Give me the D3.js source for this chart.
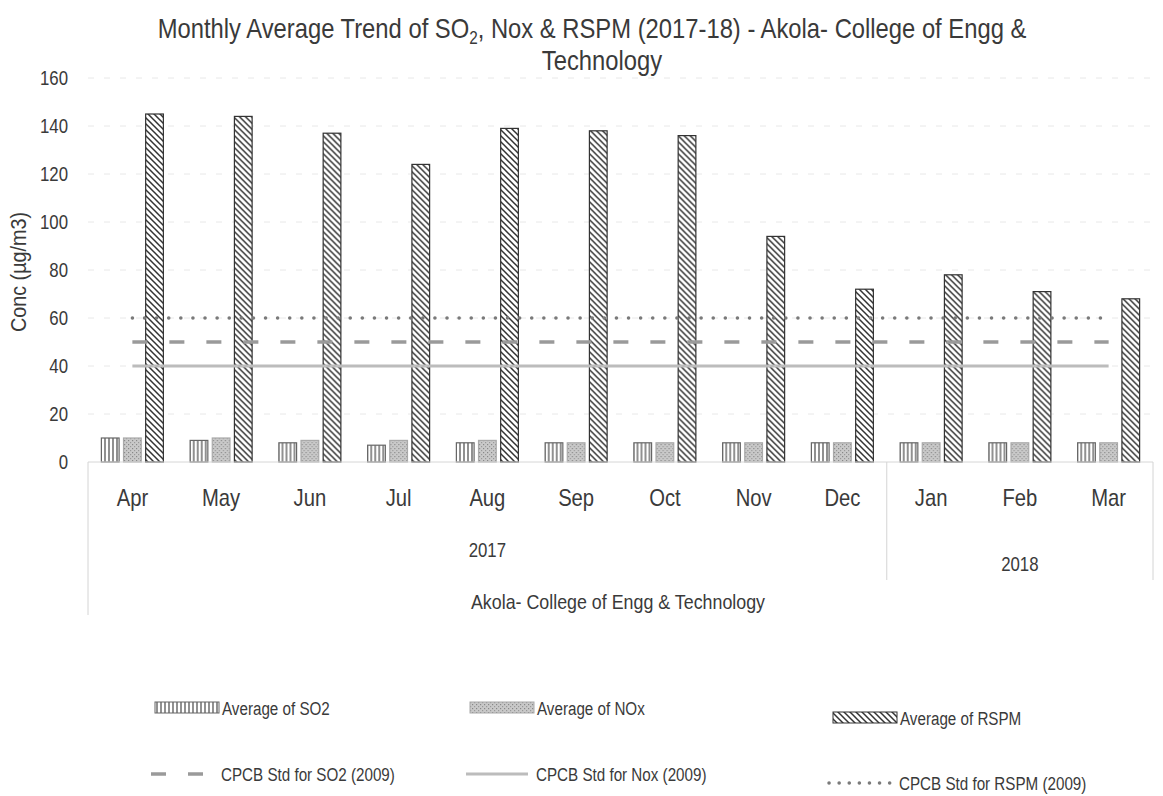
<!DOCTYPE html>
<html><head><meta charset="utf-8">
<script src="https://cdn.jsdelivr.net/npm/d3@7"></script>
<style>
html,body{margin:0;padding:0;background:#fff;}
svg text{font-family:"Liberation Sans",Arial,sans-serif;fill:#3a3a3a;}
</style></head>
<body>
<svg id="chart" width="1163" height="796"></svg>
<script>
const months = ["Apr","May","Jun","Jul","Aug","Sep","Oct","Nov","Dec","Jan","Feb","Mar"];
const years = [{label:"2017", from:"Apr", to:"Dec"},{label:"2018", from:"Jan", to:"Mar"}];
const so2 = [10, 9, 8, 7, 8, 8, 8, 8, 8, 8, 8, 8];
const nox = [10, 10, 9, 9, 9, 8, 8, 8, 8, 8, 8, 8];
const rspm = [145, 144, 137, 124, 139, 138, 136, 94, 72, 78, 71, 68];
const stdSO2 = [50,50,50,50,50,50,50,50,50,50,50,50];
const stdNOx = [40,40,40,40,40,40,40,40,40,40,40,40];
const stdRSPM = [60,60,60,60,60,60,60,60,60,60,60,60];
const yTicks = [0,20,40,60,80,100,120,140,160];
const barSeries = ["Average of SO2","Average of NOx","Average of RSPM"];
const lineSeries = ["CPCB Std for SO2 (2009)","CPCB Std for Nox (2009)","CPCB Std for RSPM (2009)"];

const svg = d3.select("#chart");
function ntext(parent, x, y, str, size, anchor, sx){
  const g = parent.append("g").attr("transform",`translate(${x},${y}) scale(${sx||0.8},1)`);
  return g.append("text").attr("text-anchor",anchor||"start").attr("font-size",size).text(str);
}

const defs = svg.append("defs");
const p1 = defs.append("pattern").attr("id","pSO2").attr("patternUnits","userSpaceOnUse").attr("width",4).attr("height",4);
p1.append("rect").attr("width",4).attr("height",4).attr("fill","#fff");
p1.append("line").attr("x1",1).attr("x2",1).attr("y1",0).attr("y2",4).attr("stroke","#555").attr("stroke-width",1.3);
const p2 = defs.append("pattern").attr("id","pNOx").attr("patternUnits","userSpaceOnUse").attr("width",4).attr("height",4);
p2.append("rect").attr("width",4).attr("height",4).attr("fill","#c9c9c9");
p2.append("rect").attr("x",0).attr("y",0).attr("width",1.2).attr("height",1.2).attr("fill","#888");
p2.append("rect").attr("x",2).attr("y",2).attr("width",1.2).attr("height",1.2).attr("fill","#999");
const p3 = defs.append("pattern").attr("id","pRSPM").attr("patternUnits","userSpaceOnUse").attr("width",6).attr("height",6);
p3.append("rect").attr("width",6).attr("height",6).attr("fill","#fff");
p3.append("path").attr("d","M0,0L6,6M-1,5L1,7M5,-1L7,1").attr("stroke","#333").attr("stroke-width",1.5);
const fills = ["url(#pSO2)","url(#pNOx)","url(#pRSPM)"];
const strokes = ["#666","#aaa","#333"];

const x0 = d3.scaleBand().domain(months).range([88,1153]);
const x1 = d3.scaleBand().domain([0,1,2]).range([x0.bandwidth()/2-31, x0.bandwidth()/2+31]).paddingInner(0.2);
const y = d3.scaleLinear().domain([0,160]).range([462,78]);

svg.append("g").selectAll("line").data(yTicks.filter(d=>d>0)).join("line")
  .attr("x1",88).attr("x2",1153).attr("y1",d=>y(d)).attr("y2",d=>y(d))
  .attr("stroke","#e8e8e8").attr("stroke-width",1).attr("stroke-dasharray","6,10");

const yAxis = d3.axisLeft(y).tickValues(yTicks).tickSize(0).tickPadding(0);
const gy = svg.append("g").attr("transform","translate(68,0)").call(yAxis);
gy.select(".domain").remove();
gy.selectAll("text").attr("font-size",21).attr("transform","scale(0.8,1)")
  .style("fill","#3a3a3a").style("font-family",'"Liberation Sans",Arial,sans-serif');

svg.append("g").attr("transform","translate(26,272) rotate(-90) scale(0.9,1)")
  .append("text").attr("text-anchor","middle").attr("font-size",22).text("Conc (µg/m3)");

const data = months.map((m,i)=>({m, vals:[so2[i],nox[i],rspm[i]]}));
const groups = svg.append("g").selectAll("g").data(data).join("g")
  .attr("transform",d=>`translate(${x0(d.m)},0)`);
groups.selectAll("rect").data(d=>d.vals.map((v,k)=>({v,k}))).join("rect")
  .attr("x",d=>x1(d.k)).attr("width",x1.bandwidth())
  .attr("y",d=>y(d.v)).attr("height",d=>y(0)-y(d.v))
  .attr("fill",d=>fills[d.k]).attr("stroke",d=>strokes[d.k]).attr("stroke-width",1.2);

svg.append("line").attr("x1",88).attr("x2",1153).attr("y1",y(0)).attr("y2",y(0)).attr("stroke","#d6d6d6").attr("stroke-width",1);

const line = d3.line().x((d,i)=>x0(months[i])+x0.bandwidth()/2).y(d=>y(d));
svg.append("path").datum(stdNOx).attr("d",line).attr("fill","none").attr("stroke","#bcbcbc").attr("stroke-width",3);
svg.append("path").datum(stdSO2).attr("d",line).attr("fill","none").attr("stroke","#9a9a9a").attr("stroke-width",3.5).attr("stroke-dasharray","15,22");
svg.append("path").datum(stdRSPM).attr("d",line).attr("fill","none").attr("stroke","#7a7a7a").attr("stroke-width",3.5).attr("stroke-linecap","round").attr("stroke-dasharray","0.1,12");

const gm = svg.append("g");
months.forEach(m=>ntext(gm, x0(m)+x0.bandwidth()/2, 506, m, 23, "middle", 0.88));
years.forEach(d=>ntext(gm, (x0(d.from)+x0(d.to)+x0.bandwidth())/2, d.label==="2017"?557:571, d.label, 21, "middle", 0.8));
const divX = [x0("Apr"), x0("Jan"), x0("Mar")+x0.bandwidth()];
svg.append("g").selectAll("line").data(divX).join("line")
  .attr("x1",d=>d).attr("x2",d=>d).attr("y1",y(0)).attr("y2",(d,i)=>i===0?615:580)
  .attr("stroke","#d4d4d4").attr("stroke-width",1);
ntext(svg, 618, 609, "Akola- College of Engg & Technology", 21, "middle", 0.85);

const tg = svg.append("g").attr("transform","translate(592,38) scale(0.85,1)");
const t = tg.append("text").attr("text-anchor","middle").attr("font-size",28);
t.append("tspan").text("Monthly Average Trend of SO");
t.append("tspan").attr("font-size",18).attr("dy",6).text("2");
t.append("tspan").attr("dy",-6).text(", Nox & RSPM (2017-18) - Akola- College of Engg &");
ntext(svg, 602, 70, "Technology", 28, "middle", 0.85);

const legX = [155, 470, 833];
barSeries.forEach((s,i)=>{
  const yy = i===2?718:708;
  svg.append("rect").attr("x",legX[i]).attr("y",yy-6).attr("width",64).attr("height",11)
    .attr("fill",fills[i]).attr("stroke",strokes[i]).attr("stroke-width",1);
  ntext(svg, legX[i]+67, yy+7, s, 19, "start", 0.8);
});
const lineStyles = [
  {stroke:"#9a9a9a", w:3.5, dash:"15,22", cap:"butt"},
  {stroke:"#bcbcbc", w:3, dash:null, cap:"butt"},
  {stroke:"#7a7a7a", w:3.5, dash:"0.1,10", cap:"round"}
];
lineSeries.forEach((s,i)=>{
  const yy = i===2?783:774;
  const lx = legX[i]-4;
  svg.append("line").attr("x1",lx).attr("x2",lx+62).attr("y1",yy).attr("y2",yy)
    .attr("stroke",lineStyles[i].stroke).attr("stroke-width",lineStyles[i].w)
    .attr("stroke-dasharray",lineStyles[i].dash).attr("stroke-linecap",lineStyles[i].cap);
  ntext(svg, lx+70, yy+7, s, 19, "start", 0.8);
});
</script>
</body></html>
